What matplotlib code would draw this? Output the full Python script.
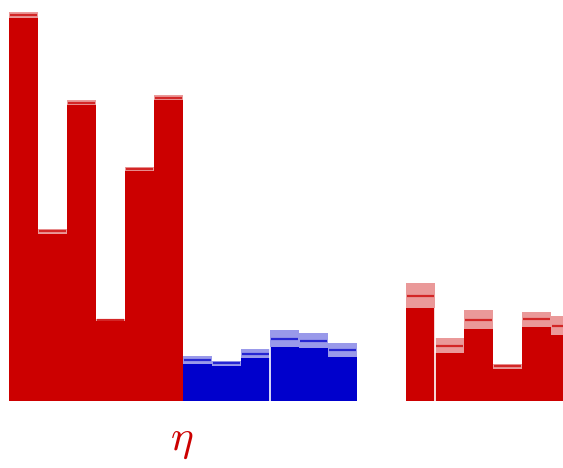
import matplotlib
matplotlib.use("Agg")
import matplotlib.pyplot as plt
import numpy as np

plt.rcParams["mathtext.fontset"] = "cm"

# bar centres (two red groups around a blue group)
positions = [0, 1, 2, 3, 4, 5, 6, 7, 8, 9, 10, 11,
             13.69, 14.69, 15.69, 16.69, 17.69, 18.69]
groups = ["red"] * 6 + ["blue"] * 6 + ["red"] * 6

# estimate, lower bound and upper bound for each bar
means = [3.855, 1.695, 2.98, 0.815, 2.315, 3.033,
         0.41, 0.377, 0.473, 0.623, 0.603, 0.507,
         1.05, 0.553, 0.813, 0.347, 0.817, 0.753]
lower = [3.825, 1.67, 2.96, 0.805, 2.295, 3.01,
         0.37, 0.35, 0.43, 0.54, 0.53, 0.44,
         0.93, 0.48, 0.72, 0.32, 0.74, 0.66]
upper = [3.89, 1.72, 3.01, 0.82, 2.335, 3.06,
         0.45, 0.40, 0.52, 0.71, 0.68, 0.58,
         1.18, 0.63, 0.91, 0.37, 0.89, 0.85]

dark = {"red": "#cc0000", "blue": "#0000cc"}
light = {"red": "#ea9999", "blue": "#9999ea"}

fig = plt.figure(figsize=(5.63, 4.68), dpi=100)
ax = fig.add_axes([0, 0, 1, 1])

x = np.array(positions)
lo = np.array(lower)
hi = np.array(upper)
mu = np.array(means)
dc = [dark[g] for g in groups]
lc = [light[g] for g in groups]

ax.bar(x, lo, width=1.0, color=dc, linewidth=0)
ax.bar(x, hi - lo, bottom=lo, width=1.0, color=lc, linewidth=0)
ax.hlines(mu, x - 0.45, x + 0.45, colors=dc, linewidth=1.6, alpha=0.75)

# thin separators between neighbouring bars
ax.vlines([8.5, 14.19], 0, [0.54, 0.93], colors="white", linewidth=1.2)

ax.text(5.47, 0.06, r"$\eta$", transform=ax.get_xaxis_transform(),
        ha="center", va="center", fontsize=31, color="#cc0000")

ax.set_xlim(-0.81, 18.603)
ax.set_ylim(-0.67, 4.01)
ax.axis("off")

fig.savefig("out.png", dpi=100)
